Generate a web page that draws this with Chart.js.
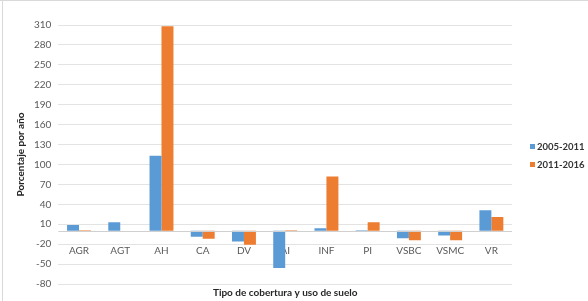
<!DOCTYPE html>
<html>
<head>
<meta charset="utf-8">
<script src="https://cdn.jsdelivr.net/npm/chart.js@4"></script>
<style>
  html, body { margin: 0; padding: 0; background: #fff; }
  #wrap { width: 588px; height: 301px; position: relative; }
</style>
</head>
<body>
<div id="wrap"><canvas id="chart"></canvas></div>
<script>
// categorías y valores (porcentaje por año)
const categorias = ['AGR', 'AGT', 'AH', 'CA', 'DV', 'AI', 'INF', 'PI', 'VSBC', 'VSMC', 'VR'];
const serie2005 = [9, 13, 113, -9, -16, -56, 4, 1, -11, -7, 31];
const serie2011 = [1, 0, 308, -12, -21, 1, 82, 13, -14, -14, 21];
const yTicks = [-80, -50, -20, 10, 40, 70, 100, 130, 160, 190, 220, 250, 280, 310];

const colorTexto = '#595959';

// línea del cero, marco y leyenda a la derecha
const extras = {
  id: 'extras',
  beforeDraw(chart) {
    const ctx = chart.ctx;
    ctx.save();
    ctx.strokeStyle = '#d9d9d9';
    ctx.lineWidth = 1;
    ctx.beginPath();
    ctx.moveTo(0, 0.5); ctx.lineTo(588, 0.5);
    ctx.moveTo(2.5, 0); ctx.lineTo(2.5, 301);
    ctx.stroke();
    ctx.restore();
  },
  afterDatasetsDraw(chart) {
    const ctx = chart.ctx;
    const area = chart.chartArea;
    const y = Math.round(chart.scales.y.getPixelForValue(0)) + 0.5;
    ctx.save();
    ctx.strokeStyle = '#d0d0d0';
    ctx.lineWidth = 1;
    ctx.beginPath();
    ctx.moveTo(area.left, y);
    ctx.lineTo(area.right, y);
    ctx.stroke();

    // leyenda
    const x0 = area.right + 18;
    const mid = (area.top + area.bottom) / 2;
    ctx.font = 'bold 9.5px Lato';
    ctx.textBaseline = 'middle';
    ctx.textAlign = 'left';
    chart.data.datasets.forEach((ds, i) => {
      const yy = Math.round(mid - 9 + i * 18.5);
      ctx.fillStyle = ds.backgroundColor;
      ctx.fillRect(x0, yy - 2, 5, 5);
      ctx.fillStyle = '#333333';
      ctx.fillText(ds.label, x0 + 7, yy + 0.5);
    });
    ctx.restore();
  }
};

new Chart(document.getElementById('chart'), {
  type: 'bar',
  data: {
    labels: categorias,
    datasets: [
      { label: '2005-2011', data: serie2005, backgroundColor: '#5B9BD5' },
      { label: '2011-2016', data: serie2011, backgroundColor: '#ED7D31' }
    ]
  },
  options: {
    responsive: true,
    maintainAspectRatio: false,
    animation: false,
    datasets: { bar: { barPercentage: 1, categoryPercentage: 0.58 } },
    layout: { padding: { left: 15, right: 76, top: 25, bottom: 2 } },
    plugins: {
      legend: { display: false },
      tooltip: { enabled: false }
    },
    scales: {
      x: {
        position: { y: 0 },
        grid: { display: false },
        border: { display: false },
        ticks: { color: colorTexto, font: { family: 'Lato', size: 10 }, padding: 6 }
      },
      x2: {
        type: 'category',
        position: 'bottom',
        labels: categorias,
        grid: { display: false, drawTicks: false },
        border: { display: false },
        ticks: { display: false, padding: 0 },
        title: {
          display: true,
          text: 'Tipo de cobertura y uso de suelo',
          color: '#262626',
          font: { family: 'Lato', size: 10, weight: 'bold' },
          padding: { top: 3, bottom: 0 }
        }
      },
      y: {
        min: -80,
        max: 310,
        afterBuildTicks: axis => { axis.ticks = yTicks.map(v => ({ value: v })); },
        grid: { color: '#e3e3e3', drawTicks: false },
        border: { display: false },
        ticks: { color: colorTexto, font: { family: 'Lato', size: 10 }, padding: 7 },
        title: {
          display: true,
          text: 'Porcentaje por año',
          color: '#262626',
          font: { family: 'Lato', size: 10, weight: 'bold' },
          padding: { top: 0, bottom: 0 }
        }
      }
    }
  },
  plugins: [extras]
});
</script>
</body>
</html>
